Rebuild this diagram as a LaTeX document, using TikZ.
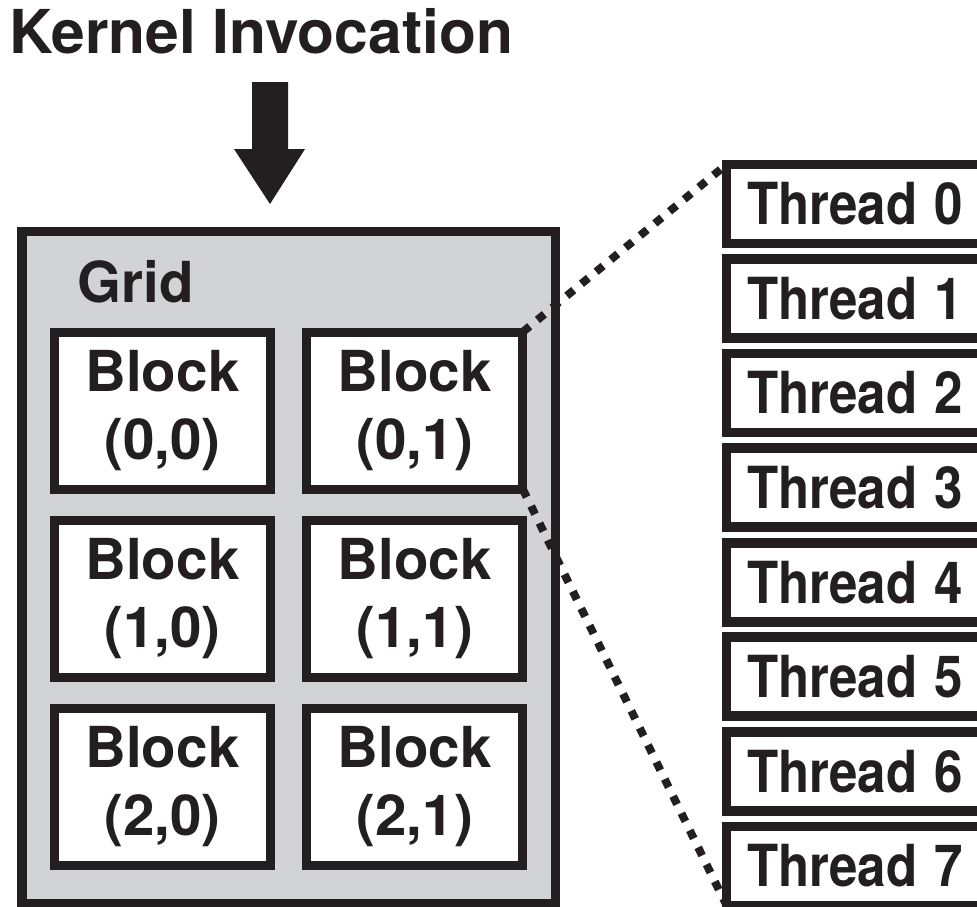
\documentclass[tikz,border=0pt]{standalone}
\usepackage{fontspec}
\setmainfont{TeX Gyre Heros}
\usepackage{graphicx}
\definecolor{ink}{RGB}{35,31,32}
\definecolor{gridgrey}{RGB}{209,211,212}
\begin{document}
\begin{tikzpicture}[x=1pt,y=-1pt,
  gridbox/.style={draw=ink,fill=gridgrey,line width=9.4pt,inner sep=0pt,outer sep=0pt},
  blockbox/.style={draw=ink,fill=white,line width=9pt,minimum width=216pt,minimum height=157pt,
     inner sep=0pt,outer sep=0pt,align=center,text=ink,font=\fontsize{56.5}{68}\selectfont\bfseries},
  threadbox/.style={draw=ink,fill=white,line width=9.6pt,minimum width=290pt,minimum height=79pt,
     inner xsep=20.5pt,inner ysep=0pt,outer sep=0pt,text width=249pt,align=left,text=ink,
     font=\fontsize{58}{68}\selectfont\bfseries},
  dotline/.style={draw=ink,line width=8pt,dash pattern=on 9pt off 10pt},
  label/.style={anchor=base west,inner sep=0pt,text=ink}
]
\useasboundingbox (0,0) rectangle (977,907);
\clip (0,0) rectangle (977,907);
% title
\node[label,font=\fontsize{60.5}{70}\selectfont\bfseries] (title) at (9,54) {Kernel Invocation};
% arrow
\fill[ink] (252,82) -- (288,82) -- (288,149) -- (305,149) -- (270,204) -- (234,149) -- (252,149) -- cycle;
% grid
\node[gridbox,minimum width=533.5pt,minimum height=672pt] (grid) at (288.75,567.75) {};
\node[label,font=\fontsize{56.5}{68}\selectfont\bfseries] (gridlabel) at (77.5,302) {Grid};
% blocks
\node[blockbox] (b00) at (162.5,410.5) {Block\\(0,0)};
\node[blockbox] (b01) at (414.75,410.5) {Block\\(0,1)};
\node[blockbox] (b10) at (162.5,599) {Block\\(1,0)};
\node[blockbox] (b11) at (414.75,599) {Block\\(1,1)};
\node[blockbox] (b20) at (162.5,787) {Block\\(2,0)};
\node[blockbox] (b21) at (414.75,787) {Block\\(2,1)};
% threads
\foreach \i in {0,...,7}{
  \node[threadbox] (t\i) at (871.5,204+94.55*\i) {\scalebox{0.88}[1]{Thread \i}};
}
% dotted connectors
\draw[dotline] (b01.north east) -- (t0.north west);
\draw[dotline] (b01.south east) -- (t7.south west);
\end{tikzpicture}
\end{document}
